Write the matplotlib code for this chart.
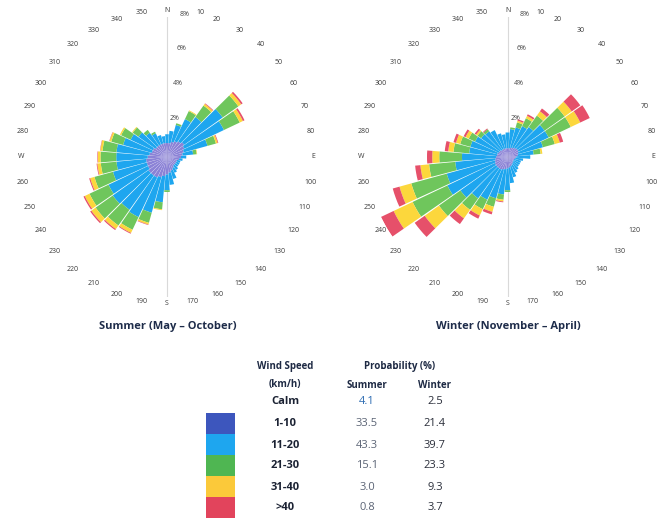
"""wind_roses
Two stacked wind roses (summer / winter) with a probability table below
"""
import numpy as np
import matplotlib
matplotlib.use("Agg")
import matplotlib.pyplot as plt
import matplotlib.transforms as mtransforms
from matplotlib.patches import Rectangle

plt.rcParams['font.family'] = ['Open Sans', 'DejaVu Sans']

# directions, 10 .. 360 degrees
directions = list(range(10, 361, 10))
dir_labels = ['N' if d == 0 else 'E' if d == 90 else 'S' if d == 180 else 'W' if d == 270 else str(d)
	for d in range(0, 360, 10)]

speed_classes = ['1-10', '11-20', '21-30', '31-40', '>40']
rose_colors = ['#8b82d6', '#1ea6ef', '#6fc65c', '#fcd73c', '#e6506a']
box_colors = ['#3d56bd', '#1ea6ef', '#4fb652', '#fbc93a', '#e2445c']

# frequency (%) per direction, summer (May - October)
s_1_10 = [0.8, 0.9, 1.0, 1.1, 1.2, 1.1, 1.0, 0.9, 0.8, 0.7, 0.6, 0.6, 0.6, 0.6, 0.7, 0.8, 0.9, 1.0,
	1.1, 1.2, 1.3, 1.3, 1.3, 1.2, 1.2, 1.2, 1.1, 1.0, 0.9, 0.9, 0.8, 0.8, 0.8, 0.8, 0.8, 0.8]
s_11_20 = [0.7, 1.0, 1.4, 1.7, 2.7, 2.5, 1.4, 0.6, 0.3, 0.2, 0.2, 0.2, 0.2, 0.3, 0.3, 0.5, 0.7, 0.9,
	1.5, 2.1, 2.5, 2.4, 2.5, 2.5, 2.0, 1.7, 1.8, 1.9, 1.7, 1.4, 1.2, 0.9, 0.7, 0.5, 0.4, 0.5]
s_21_30 = [0, 0.1, 0.5, 0.8, 1.1, 1.0, 0.5, 0.2, 0, 0, 0, 0, 0, 0, 0, 0, 0, 0.1,
	0.4, 0.6, 0.8, 1.1, 1.2, 1.2, 1.1, 0.9, 0.9, 0.8, 0.7, 0.6, 0.4, 0.2, 0.1, 0, 0, 0]
s_31_40 = [0, 0, 0.05, 0.12, 0.2, 0.2, 0.1, 0.03, 0, 0, 0, 0, 0, 0, 0, 0, 0, 0,
	0.05, 0.1, 0.2, 0.25, 0.3, 0.3, 0.25, 0.2, 0.15, 0.12, 0.1, 0.08, 0.05, 0, 0, 0, 0, 0]
s_over_40 = [0, 0, 0, 0.04, 0.1, 0.1, 0.04, 0, 0, 0, 0, 0, 0, 0, 0, 0, 0, 0,
	0, 0.03, 0.05, 0.07, 0.08, 0.08, 0.06, 0.04, 0.03, 0.02, 0.02, 0, 0, 0, 0, 0, 0, 0]

# frequency (%) per direction, winter (November - April)
w_1_10 = [0.5, 0.55, 0.6, 0.65, 0.7, 0.7, 0.65, 0.6, 0.5, 0.45, 0.4, 0.4, 0.4, 0.45, 0.5, 0.55, 0.6, 0.65,
	0.7, 0.75, 0.8, 0.8, 0.8, 0.8, 0.75, 0.7, 0.65, 0.6, 0.6, 0.55, 0.55, 0.5, 0.5, 0.5, 0.5, 0.5]
w_11_20 = [1.1, 1.2, 1.35, 1.45, 1.9, 1.9, 1.45, 0.9, 0.8, 0.45, 0.4, 0.4, 0.4, 0.45, 0.5, 0.65, 0.9, 1.25,
	1.45, 1.7, 1.9, 2.1, 2.5, 3.0, 2.85, 2.3, 1.95, 1.6, 1.6, 1.5, 1.3, 1.3, 1.2, 0.9, 0.8, 0.9]
w_21_30 = [0.1, 0.3, 0.5, 0.8, 1.4, 1.4, 0.7, 0.4, 0, 0, 0, 0, 0, 0, 0, 0, 0, 0.1,
	0.3, 0.5, 0.6, 0.8, 1.5, 2.2, 2.1, 1.5, 1.3, 0.9, 0.6, 0.4, 0.25, 0.15, 0, 0, 0, 0]
w_31_40 = [0, 0.1, 0.15, 0.3, 0.5, 0.6, 0.3, 0.1, 0, 0, 0, 0, 0, 0, 0, 0, 0, 0,
	0.1, 0.3, 0.4, 0.6, 1.0, 1.2, 0.7, 0.5, 0.4, 0.3, 0.25, 0.2, 0.1, 0, 0, 0, 0, 0]
w_over_40 = [0, 0.08, 0.1, 0.2, 0.6, 0.6, 0.2, 0, 0, 0, 0, 0, 0, 0, 0, 0, 0, 0,
	0.05, 0.15, 0.2, 0.4, 0.7, 0.8, 0.4, 0.3, 0.3, 0.2, 0.15, 0.12, 0.1, 0.05, 0, 0, 0, 0]

# table
table_rows = ['Calm'] + speed_classes
summer_prob = ['4.1', '33.5', '43.3', '15.1', '3.0', '0.8']
winter_prob = ['2.5', '21.4', '39.7', '23.3', '9.3', '3.7']

W, H = 657, 518


def draw_rose(rect, series):
	"""One stacked polar bar chart"""
	ax = fig.add_axes(rect, projection='polar')
	ax.set_theta_zero_location('N')
	ax.set_theta_direction(-1)
	theta = np.radians(directions)
	bottom = np.zeros(len(directions))
	for vals, col in zip(series, rose_colors):
		ax.bar(theta, vals, width=np.radians(9.3), bottom=bottom, color=col,
			edgecolor='none', linewidth=0, zorder=2)
		bottom = bottom + np.array(vals)
	ax.axvline(0, color='#d9d9d9', lw=0.8, zorder=0)
	ax.axvline(np.pi, color='#d9d9d9', lw=0.8, zorder=0)
	ax.set_ylim(0, 8.0)
	ax.set_thetagrids(np.arange(0, 360, 10), dir_labels, fontsize=5, color='#3a3a3a')
	ax.set_rgrids([2, 4, 6, 8], ['2%', '4%', '6%', '8%'], angle=5, fontsize=5, color='#444444')
	ax.grid(False)
	ax.spines['polar'].set_visible(False)
	ax.tick_params(axis='x', pad=-6)
	ax.set_facecolor('none')
	# the "10" label sits a little further right, clear of "8%"
	lab10 = ax.get_xticklabels()[1]
	lab10.set_transform(lab10.get_transform() + mtransforms.ScaledTranslation(8 / 100, 0, fig.dpi_scale_trans))
	return ax


fig = plt.figure(figsize=(W / 100, H / 100), dpi=100)

size = 280
draw_rose([27 / W, 1 - 297 / H, size / W, size / H],
	[s_1_10, s_11_20, s_21_30, s_31_40, s_over_40])
draw_rose([367.5 / W, 1 - 297 / H, size / W, size / H],
	[w_1_10, w_11_20, w_21_30, w_31_40, w_over_40])

title = dict(fontsize=8, fontweight='bold', color='#1e2c4a', ha='center', va='center')
fig.text(168 / W, 1 - 326 / H, 'Summer (May \u2013 October)', **title)
fig.text(508 / W, 1 - 326 / H, 'Winter (November \u2013 April)', **title)

# table area in pixel coordinates
tab = fig.add_axes([0, 0, 1, 178 / H])
tab.set_xlim(0, W)
tab.set_ylim(H, 340)
tab.axis('off')

head = dict(fontsize=7, fontweight='bold', color='#1e2a44', ha='center', va='center')
tab.text(285, 366, 'Wind Speed', **head)
tab.text(285, 384, '(km/h)', **head)
tab.text(400, 366, 'Probability (%)', **head)
tab.text(367, 385, 'Summer', **head)
tab.text(435, 385, 'Winter', **head)

row_y = [402, 424, 445, 466, 487, 508]
for i, (lab, sv, wv) in enumerate(zip(table_rows, summer_prob, winter_prob)):
	y = row_y[i]
	tab.text(285, y, lab, fontsize=8, fontweight='bold', color='#1b2233', ha='center', va='center')
	tab.text(367, y, sv, fontsize=8, color='#2f6db3' if i == 0 else '#5b6475', ha='center', va='center')
	tab.text(435, y, wv, fontsize=8, color='#2a2e3a', ha='center', va='center')

box_top = [413, 434, 455, 476, 497]
for top, col in zip(box_top, box_colors):
	tab.add_patch(Rectangle((206, top), 29, 21, facecolor=col, edgecolor='none'))

fig.savefig('out.png', dpi=100)
